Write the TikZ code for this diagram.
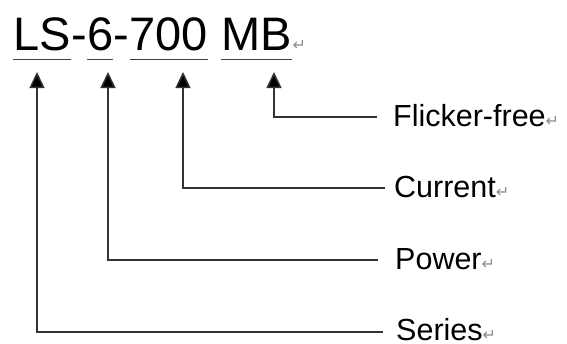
\documentclass[tikz,border=0pt]{standalone}
\usepackage{fontspec}
\setmainfont{Liberation Sans}
\newfontfamily\markfont{DejaVu Sans}
\usetikzlibrary{positioning,arrows.meta}
\newcommand\retmark{{\markfont\fontsize{16}{16}\selectfont\color{black!45}↵}}

\begin{document}
\begin{tikzpicture}[x=1pt,y=-1pt,
    part/.style={inner sep=0pt,font=\fontsize{47}{47}\selectfont,text height=35pt,text depth=9pt},
    lab/.style={inner sep=0pt,anchor=west,font=\fontsize{30.5}{30.5}\selectfont},
    uline/.style={line width=1.4pt,draw=black!75},
    lead/.style={line width=1.5pt,draw=black!80,-{Triangle[width=15pt,length=16pt,fill=black]}}]
	  \useasboundingbox (0,0) rectangle (567,343);
	  %CODE LS-6-700 MB
	  \node[part,anchor=base west] (ls) at (13,50) {LS};
	  \node[part,right=0pt of ls] (d1) {-};
	  \node[part,right=0pt of d1] (six) {6};
	  \node[part,right=0pt of six] (d2) {-};
	  \node[part,right=0pt of d2] (svn) {700};
	  \node[part,right=13.1pt of svn] (mb) {MB};
	  \node[inner sep=0pt,anchor=base west] (rt) at (mb.base east) {\retmark};
	  %underlines
	  \draw[uline] (ls.south west) -- (ls.south east);
	  \draw[uline] (six.south west) -- (six.south east);
	  \draw[uline] (svn.south west) -- (svn.south east);
	  \draw[uline] (mb.south west) -- (mb.south east);
	  %LABELS
	  \node[lab] (flk) at (393,116) {Flicker-free\retmark};
	  \node[lab] (cur) at (394,187) {Current\retmark};
	  \node[lab] (pow) at (395,259) {Power\retmark};
	  \node[lab] (ser) at (396,329.5) {Series\retmark};
	  %arrow tips
	  \coordinate (tls) at (37,72);
	  \coordinate (tsix) at (108,72);
	  \coordinate (tsvn) at (183,72);
	  \coordinate (tmb) at (274,72);
	  %line ends
	  \coordinate (eflk) at (377,117);
	  \coordinate (ecur) at (385,188);
	  \coordinate (epow) at (378,260);
	  \coordinate (eser) at (383,332);
	  \draw[lead] (eflk) -| (tmb);
	  \draw[lead] (ecur) -| (tsvn);
	  \draw[lead] (epow) -| (tsix);
	  \draw[lead] (eser) -| (tls);
\end{tikzpicture}
\end{document}
